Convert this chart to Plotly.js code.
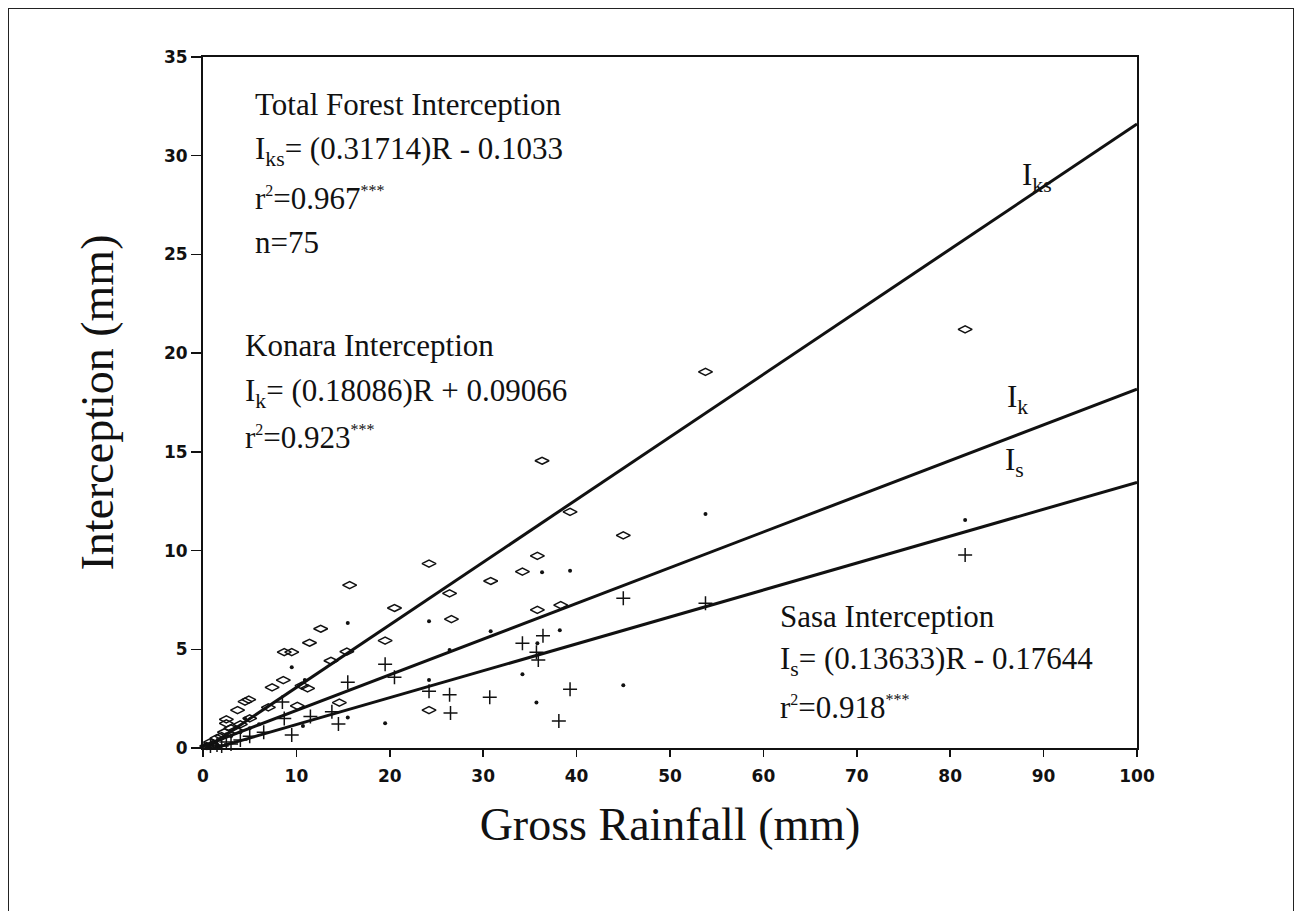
<!DOCTYPE html>
<html>
<head>
<meta charset="utf-8">
<script src="https://cdn.plot.ly/plotly-3.0.1.min.js"></script>
<style>
  html, body { margin: 0; padding: 0; background: #fff; }
  #wrap { position: relative; width: 1301px; height: 911px; }
  #frame { position: absolute; left: 8px; top: 8px; width: 1284px; height: 920px;
           border-left: 1.5px solid #222; border-top: 1.5px solid #222; border-right: 1.5px solid #222; pointer-events: none; }
  #chart { position: absolute; left: 0; top: 0; width: 1301px; height: 911px; }
</style>
</head>
<body>
<div id="wrap">
  <div id="chart"></div>
  <div id="frame"></div>
</div>
<script>
// Total forest interception (open diamonds)
const totalX = [0.4, 0.8, 1.0, 1.5, 2.0, 2.3, 2.5, 2.5, 3.0, 3.5, 3.7, 4.0, 4.5, 4.9, 5.0, 7.0, 7.4, 8.6, 8.7, 9.5, 10.1, 10.6, 11.2, 11.4, 12.6, 13.7, 14.6, 15.4, 15.7, 19.5, 20.5, 24.2, 24.2, 26.4, 26.6, 30.8, 34.2, 35.8, 35.8, 36.3, 38.3, 39.3, 45.0, 53.8, 81.6];
const totalY = [0.1, 0.3, 0.15, 0.5, 0.6, 0.8, 1.25, 1.45, 1.0, 0.9, 1.92, 1.2, 2.35, 2.45, 1.5, 2.06, 3.07, 3.44, 4.86, 4.86, 2.13, 3.16, 3.02, 5.33, 6.04, 4.42, 2.30, 4.88, 8.25, 5.44, 7.09, 9.34, 1.92, 7.83, 6.53, 8.46, 8.93, 9.73, 7.0, 14.55, 7.24, 11.96, 10.77, 19.05, 21.2];

// Konara interception (small dots)
const konaraX = [0.5, 1.0, 1.5, 2.0, 2.5, 3.0, 4.0, 4.5, 5.0, 6.0, 9.5, 10.7, 10.9, 15.5, 15.5, 19.5, 24.2, 24.2, 26.4, 30.8, 34.2, 35.7, 35.8, 36.3, 38.2, 39.3, 45.0, 53.8, 81.6];
const konaraY = [0.1, 0.3, 0.2, 0.5, 0.7, 0.6, 0.8, 1.5, 1.0, 1.2, 4.09, 1.11, 3.44, 6.33, 1.55, 1.25, 6.42, 3.44, 4.96, 5.91, 3.73, 2.30, 5.30, 8.9, 5.96, 8.98, 3.18, 11.85, 11.55];

// Sasa interception (plus signs)
const sasaX = [0.3, 0.8, 1.5, 2.0, 2.5, 3.0, 4.0, 5.0, 5.0, 6.5, 8.5, 8.7, 9.5, 10.0, 11.5, 13.8, 14.5, 15.5, 19.5, 20.5, 24.2, 26.4, 26.5, 30.7, 34.2, 35.7, 35.9, 36.4, 38.1, 39.3, 45.0, 53.8, 81.6];
const sasaY = [-0.05, 0.1, 0.15, 0.1, 0.3, 0.2, 0.4, -0.35, 0.6, 0.8, 2.33, 1.5, 0.66, -0.27, 1.59, 1.84, 1.22, 3.33, 4.24, 3.58, 2.87, 2.70, 1.77, 2.57, 5.30, 4.85, 4.46, 5.69, 1.37, 2.97, 7.58, 7.33, 9.78];

// Regression lines: slope, intercept  [Iks, Ik, Is]
const lineNames = ["I_ks", "I_k", "I_s"];
const slopes = [0.31714, 0.18086, 0.13633];
const intercepts = [-0.1033, 0.09066, -0.17644];
const lineRange = [0, 100];

const xTicks = [0, 10, 20, 30, 40, 50, 60, 70, 80, 90, 100];
const yTicks = [0, 5, 10, 15, 20, 25, 30, 35];

const traces = [];
for (let i = 0; i < slopes.length; i++) {
  traces.push({
    x: lineRange,
    y: lineRange.map(r => slopes[i] * r + intercepts[i]),
    mode: 'lines', type: 'scatter', name: lineNames[i],
    line: { color: '#111', width: 3 }, hoverinfo: 'skip', showlegend: false
  });
}
traces.push({
  x: totalX, y: totalY, mode: 'markers', type: 'scatter', name: 'Total',
  marker: { symbol: 'diamond-wide-open', size: 10, color: '#111', line: { width: 1.5, color: '#111' } },
  cliponaxis: false, showlegend: false
});
traces.push({
  x: konaraX, y: konaraY, mode: 'markers', type: 'scatter', name: 'Konara',
  marker: { symbol: 'circle', size: 4, color: '#111' },
  cliponaxis: false, showlegend: false
});
traces.push({
  x: sasaX, y: sasaY, mode: 'markers', type: 'scatter', name: 'Sasa',
  marker: { symbol: 'cross-thin-open', size: 10, color: '#111', line: { width: 1.5, color: '#111' } },
  cliponaxis: false, showlegend: false
});

const serif = '"Liberation Serif", "Times New Roman", serif';
const annFont = { family: serif, size: 31, color: '#111' };
function ann(x, y, text) {
  return { x: x, y: y, xref: 'x', yref: 'y', text: text, showarrow: false,
           xanchor: 'left', yanchor: 'middle', align: 'left', font: annFont };
}
const small = s => '<sup><span style="font-size:16px">' + s + '</span></sup>';

const annotations = [
  ann(5.35, 32.6, 'Total Forest Interception'),
  ann(5.35, 30.25, 'I<sub>ks</sub>= (0.31714)R - 0.1033'),
  ann(5.35, 27.85, 'r' + small('2') + '=0.967' + small('***')),
  ann(5.35, 25.6, 'n=75'),
  ann(4.28, 20.4, 'Konara Interception'),
  ann(4.28, 18.0, 'I<sub>k</sub>= (0.18086)R + 0.09066'),
  ann(4.28, 15.75, 'r' + small('2') + '=0.923' + small('***')),
  ann(61.56, 6.65, 'Sasa Interception'),
  ann(61.56, 4.4, 'I<sub>s</sub>= (0.13633)R - 0.17644'),
  ann(61.56, 2.05, 'r' + small('2') + '=0.918' + small('***')),
  ann(87.5, 28.9, 'I<sub>ks</sub>'),
  ann(85.9, 17.7, 'I<sub>k</sub>'),
  ann(85.65, 14.5, 'I<sub>s</sub>')
];

const tickFont = { family: '"DejaVu Sans", Arial, sans-serif', size: 17, color: '#111', weight: 'bold' };

const layout = {
  width: 1301, height: 911,
  margin: { l: 203, r: 164, t: 57, b: 163 },
  paper_bgcolor: '#fff', plot_bgcolor: '#fff',
  showlegend: false,
  xaxis: {
    range: [0, 100], tickvals: xTicks, ticktext: xTicks.map(String),
    showline: true, mirror: true, linecolor: '#111', linewidth: 2,
    ticks: 'outside', ticklen: 7, tickwidth: 1.5, tickcolor: '#111',
    ticklabelstandoff: 5,
    showgrid: false, zeroline: false, tickfont: tickFont,
    title: { text: 'Gross Rainfall (mm)', font: { family: serif, size: 46, color: '#111' }, standoff: 22 }
  },
  yaxis: {
    range: [0, 35], tickvals: yTicks, ticktext: yTicks.map(String),
    showline: true, mirror: true, linecolor: '#111', linewidth: 2,
    ticks: 'outside', ticklen: 10, tickwidth: 1.5, tickcolor: '#111',
    showgrid: false, zeroline: false, tickfont: tickFont,
    title: { text: 'Interception (mm)', font: { family: serif, size: 46, color: '#111' }, standoff: 36 }
  },
  annotations: annotations
};

Plotly.newPlot('chart', traces, layout, { displayModeBar: false, staticPlot: true });
</script>
</body>
</html>
